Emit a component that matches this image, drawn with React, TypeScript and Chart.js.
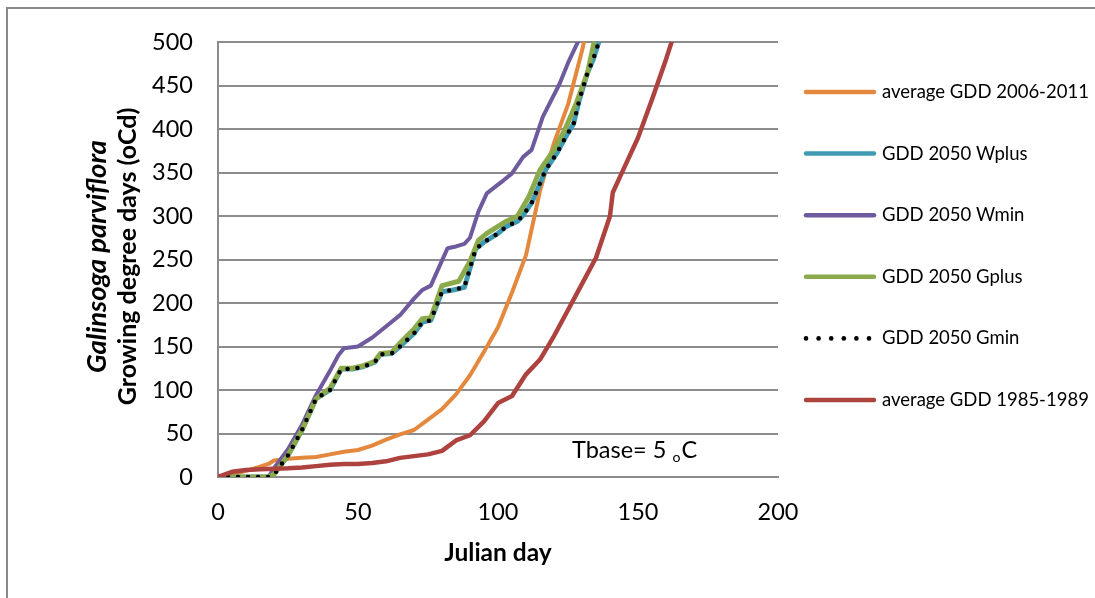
import React, { useEffect, useRef } from "react";
import { Chart, registerables } from "chart.js";

Chart.register(...registerables);

// ---------- data ----------
const xTicks = [0, 50, 100, 150, 200];
const yTicks = [0, 50, 100, 150, 200, 250, 300, 350, 400, 450, 500];

const seriesNames = [
  "average GDD 2006-2011",
  "GDD 2050 Wplus",
  "GDD 2050 Wmin",
  "GDD 2050 Gplus",
  "GDD 2050 Gmin",
  "average GDD 1985-1989",
];

const avg2006Days = [0, 5, 10, 15, 18, 20, 25, 30, 35, 40, 45, 50, 55, 60, 65, 70, 75, 80, 85, 90, 95, 100, 105, 110, 115, 120, 125, 130, 135];
const avg2006Vals = [0, 3, 7, 12, 15, 19, 21, 22, 23, 26, 29, 31, 36, 43, 49, 54, 66, 78, 95, 117, 144, 172, 212, 255, 329, 384, 428, 490, 560];

const wplusDays = [0, 5, 10, 15, 18, 20, 25, 30, 35, 40, 44, 48, 52, 56, 58, 62, 65, 70, 73, 76, 80, 84, 88, 92, 95, 100, 103, 107, 109, 112, 114, 117, 121, 124, 127, 129, 132, 134, 136, 138];
const wplusVals = [0, 0, 0, 0, 0, 3, 25, 54, 90, 100, 124, 124, 127, 132, 141, 142, 150, 165, 178, 180, 213, 215, 218, 262, 270, 280, 288, 294, 301, 315, 330, 353, 372, 390, 406, 433, 465, 480, 500, 525];

const wminDays = [0, 5, 10, 15, 18, 20, 25, 30, 35, 40, 43, 45, 50, 55, 60, 65, 70, 73, 76, 82, 85, 88, 90, 93, 96, 100, 102, 105, 109, 112, 116, 122, 125, 130];
const wminVals = [0, 0, 0, 0, 0, 10, 32, 60, 94, 122, 140, 148, 150, 160, 173, 186, 205, 215, 220, 263, 265, 268, 275, 305, 326, 336, 341, 349, 368, 376, 414, 452, 476, 510];

const gplusDays = [0, 5, 10, 15, 18, 20, 25, 30, 35, 40, 44, 48, 52, 56, 58, 62, 65, 70, 73, 76, 80, 86, 90, 93, 96, 100, 103, 107, 111, 115, 120, 124, 128, 132, 135];
const gplusVals = [0, 0, 0, 0, 0, 3, 25, 54, 90, 102, 125, 125, 128, 133, 142, 143, 154, 170, 182, 183, 220, 225, 248, 272, 280, 288, 294, 300, 322, 353, 376, 400, 430, 465, 510];

const gminDays = [0, 5, 10, 15, 18, 20, 25, 30, 35, 40, 44, 48, 52, 56, 58, 62, 65, 70, 73, 76, 80, 84, 88, 92, 95, 100, 103, 107, 109, 112, 114, 117, 121, 124, 127, 129, 132, 134, 136, 138];
const gminVals = [0, 0, 0, 0, 0, 3, 25, 54, 90, 100, 124, 124, 127, 132, 141, 142, 150, 165, 178, 180, 213, 215, 218, 262, 270, 280, 288, 294, 301, 315, 330, 353, 372, 390, 406, 433, 465, 480, 500, 525];

const avg1985Days = [0, 5, 10, 15, 20, 25, 30, 35, 40, 45, 50, 55, 60, 65, 70, 75, 80, 85, 90, 95, 100, 105, 110, 115, 120, 125, 130, 135, 140, 141, 145, 150, 155, 160, 165];
const avg1985Vals = [0, 6, 8, 9, 9.5, 10, 11, 12.5, 14, 15, 15, 16, 18, 22, 24, 26, 30, 42, 48, 64, 85, 93, 118, 135, 162, 192, 222, 252, 300, 327, 355, 390, 434, 480, 530];

// ---------- styling ----------
const FAMILY = "Lato";
const COLORS = ["#E3883D", "#3F9AB4", "#6E5A9C", "#8AAA4C", "#000000", "#AD423F"];
const GRID = "#8C8C8C";

function pts(days: number[], vals: number[]) {
  return days.map((d, i) => ({ x: d, y: vals[i] }));
}

function fitSize(text: string, target: number, weight: string, style = "normal") {
  const c = document.createElement("canvas").getContext("2d")!;
  c.font = `${style} ${weight} 100px ${FAMILY}`;
  return Math.round(((100 * target) / c.measureText(text).width) * 2) / 2;
}

export default function App() {
  const ref = useRef<HTMLCanvasElement>(null);

  useEffect(() => {
    document.body.style.margin = "0";
    const base = fitSize("GDD 2050 Wplus", 146, "normal");
    const tickSize = fitSize("500", 41, "normal");
    const titleSize = fitSize("Growing degree days (oCd)", 300, "bold");
    const title1Size = fitSize("Galinsoga parviflora", 235, "bold", "italic");
    const xTitleSize = fitSize("Julian day", 108, "bold");

    const decor = {
      id: "decor",
      afterDraw(chart: any) {
        const ctx = chart.ctx as CanvasRenderingContext2D;
        const area = chart.chartArea;
        ctx.save();
        // outer chart border (top & left visible)
        ctx.strokeStyle = "#8A8A8A";
        ctx.lineWidth = 2;
        ctx.beginPath();
        ctx.moveTo(7, 598);
        ctx.lineTo(7, 8);
        ctx.lineTo(1095, 8);
        ctx.stroke();

        // y title
        ctx.fillStyle = "#000";
        ctx.textAlign = "center";
        ctx.textBaseline = "middle";
        const cy = (area.top + area.bottom) / 2 - 3;
        ctx.save();
        ctx.translate(97, cy);
        ctx.rotate(-Math.PI / 2);
        ctx.font = `italic bold ${title1Size}px ${FAMILY}`;
        ctx.fillText("Galinsoga parviflora", 0, 0);
        ctx.restore();
        ctx.save();
        ctx.translate(128, cy);
        ctx.rotate(-Math.PI / 2);
        ctx.font = `bold ${titleSize}px ${FAMILY}`;
        ctx.fillText("Growing degree days (oCd)", 0, 0);
        ctx.restore();

        // x title
        ctx.font = `bold ${xTitleSize}px ${FAMILY}`;
        ctx.fillText("Julian day", 498, 553);

        // Tbase annotation
        ctx.textAlign = "left";
        ctx.font = `${tickSize}px ${FAMILY}`;
        let tx = 572;
        const t1 = "Tbase= 5 ";
        ctx.fillText(t1, tx, 450);
        tx += ctx.measureText(t1).width;
        ctx.font = `${tickSize * 0.6}px ${FAMILY}`;
        ctx.fillText("o", tx, 457);
        tx += ctx.measureText("o").width + 1;
        ctx.font = `${tickSize}px ${FAMILY}`;
        ctx.fillText("C", tx, 450);

        // legend
        const ds = chart.data.datasets;
        for (let i = 0; i < ds.length; i++) {
          const y = 92 + i * 61.6;
          const col = ds[i].borderColor;
          if (ds[i].borderDash && ds[i].borderDash.length) {
            ctx.fillStyle = col;
            for (let k = 0; k < 6; k++) {
              ctx.beginPath();
              ctx.arc(806 + k * 12.6, y, 2.3, 0, Math.PI * 2);
              ctx.fill();
            }
          } else {
            ctx.strokeStyle = col;
            ctx.lineWidth = 4.5;
            ctx.lineCap = "round";
            ctx.beginPath();
            ctx.moveTo(806, y);
            ctx.lineTo(874, y);
            ctx.stroke();
          }
          ctx.fillStyle = "#000";
          ctx.font = `${base}px ${FAMILY}`;
          ctx.textAlign = "left";
          ctx.fillText(ds[i].label, 882, y);
        }
        ctx.restore();
      },
    };

    const allDays = [avg2006Days, wplusDays, wminDays, gplusDays, gminDays, avg1985Days];
    const allVals = [avg2006Vals, wplusVals, wminVals, gplusVals, gminVals, avg1985Vals];
    const widths = [4, 5, 4, 5, 4.5, 4.5];
    const orders = [5, 4, 3, 2, 1, 0];

    const datasets = seriesNames.map((name, i) => ({
      label: name,
      data: pts(allDays[i], allVals[i]),
      borderColor: COLORS[i],
      backgroundColor: COLORS[i],
      borderWidth: widths[i],
      pointRadius: 0,
      showLine: true,
      tension: 0,
      borderJoinStyle: "round" as const,
      borderCapStyle: "round" as const,
      borderDash: i === 4 ? [0, 10] : [],
      order: orders[i],
    }));

    const chart = new Chart(ref.current!, {
      type: "scatter",
      data: { datasets },
      options: {
        animation: false,
        responsive: false,
        events: [],
        layout: { padding: { left: 0, top: 42, right: 317, bottom: 0 } },
        plugins: { legend: { display: false }, tooltip: { enabled: false } },
        scales: {
          x: {
            type: "linear",
            min: 0,
            max: 200,
            afterFit: (s: any) => {
              s.height = 121;
            },
            afterBuildTicks: (s: any) => {
              s.ticks = xTicks.map((v) => ({ value: v }));
            },
            ticks: { color: "#000", font: { family: FAMILY, size: tickSize }, padding: 21, maxRotation: 0 },
            grid: { display: false, drawTicks: false },
            border: { display: true, color: GRID, width: 2 },
          },
          y: {
            type: "linear",
            min: 0,
            max: 500,
            afterFit: (s: any) => {
              s.width = 218;
            },
            afterBuildTicks: (s: any) => {
              s.ticks = yTicks.map((v) => ({ value: v }));
            },
            ticks: { color: "#000", font: { family: FAMILY, size: tickSize }, padding: 25 },
            grid: { color: GRID, lineWidth: 2, drawTicks: false },
            border: { display: true, color: GRID, width: 2 },
          },
        },
      },
      plugins: [decor],
    });
    return () => chart.destroy();
  }, []);

  return (
    <canvas
      ref={ref}
      width={1095}
      height={598}
      style={{ display: "block", width: 1095, height: 598, background: "#fff" }}
    />
  );
}
